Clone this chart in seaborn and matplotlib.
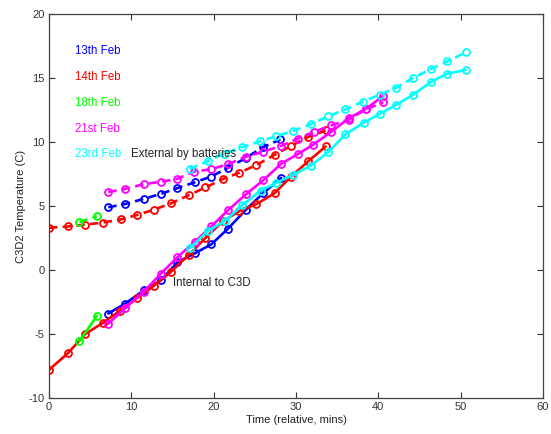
import matplotlib
matplotlib.use("Agg")
import matplotlib.pyplot as plt
import seaborn as sns
import pandas as pd

# ---- data ----
# 13th Feb
feb13_ext_t = [7.2, 9.2, 11.5, 13.6, 15.6, 17.7, 19.7, 21.8, 23.9, 26.0, 28.1]
feb13_ext_v = [4.9, 5.15, 5.55, 5.95, 6.4, 6.85, 7.3, 8.0, 8.75, 9.6, 10.2]
feb13_int_t = [7.2, 9.2, 11.5, 13.6, 15.6, 17.7, 19.7, 21.7, 23.9, 26.0, 28.2]
feb13_int_v = [-3.4, -2.65, -1.6, -0.8, 0.6, 1.3, 2.0, 3.2, 4.7, 6.0, 7.2]

# 14th Feb
feb14_ext_t = [0.0, 2.3, 4.4, 6.5, 8.7, 10.7, 12.7, 14.8, 17.0, 19.0, 21.1, 23.1, 25.2, 27.4, 29.4, 31.5, 33.6]
feb14_ext_v = [3.3, 3.4, 3.55, 3.7, 3.95, 4.3, 4.7, 5.2, 5.85, 6.45, 7.1, 7.6, 8.2, 9.0, 9.7, 10.4, 10.9]
feb14_int_t = [0.0, 2.3, 4.4, 6.5, 8.6, 10.7, 12.7, 14.8, 17.0, 19.0, 21.1, 23.1, 25.2, 27.4, 29.4, 31.5, 33.6]
feb14_int_v = [-7.8, -6.5, -5.0, -4.15, -3.2, -2.2, -1.25, -0.15, 1.2, 2.5, 3.8, 4.6, 5.15, 6.0, 7.3, 8.5, 9.65]

# 18th Feb
feb18_ext_t = [3.7, 5.8]
feb18_ext_v = [3.75, 4.2]
feb18_int_t = [3.7, 5.8]
feb18_int_v = [-5.55, -3.6]

# 21st Feb
feb21_ext_t = [7.2, 9.2, 11.5, 13.6, 15.5, 17.6, 19.7, 21.8, 23.9, 26.0, 28.2, 30.2, 32.2, 34.3, 36.4, 38.5, 40.6]
feb21_ext_v = [6.1, 6.33, 6.7, 6.9, 7.1, 7.68, 7.87, 8.28, 8.85, 9.24, 9.7, 10.25, 10.8, 11.3, 11.75, 12.55, 13.1]
feb21_int_t = [7.2, 9.2, 11.5, 13.6, 15.6, 17.7, 19.7, 21.8, 23.9, 26.0, 28.2, 30.2, 32.1, 34.3, 36.4, 38.5, 40.6]
feb21_int_v = [-4.2, -3.0, -1.7, -0.28, 1.0, 2.2, 3.4, 4.7, 5.9, 7.0, 8.3, 9.05, 9.8, 10.8, 11.85, 12.6, 13.6]

# 23rd Feb
feb23_ext_t = [17.1, 19.3, 21.3, 23.4, 25.6, 27.6, 29.6, 31.8, 33.9, 36.0, 38.1, 40.2, 42.2, 44.2, 46.4, 48.4, 50.6]
feb23_ext_v = [7.9, 8.5, 9.1, 9.6, 10.05, 10.45, 10.85, 11.4, 12.0, 12.55, 13.15, 13.7, 14.25, 15.0, 15.7, 16.3, 17.0]
feb23_int_t = [17.1, 19.3, 21.4, 23.5, 25.7, 27.6, 29.6, 31.8, 33.9, 36.0, 38.2, 40.2, 42.2, 44.2, 46.4, 48.4, 50.6]
feb23_int_v = [1.7, 3.05, 3.85, 5.08, 6.2, 6.8, 7.42, 8.15, 9.2, 10.6, 11.5, 12.2, 12.92, 13.68, 14.7, 15.35, 15.62]

day_labels = ["13th Feb", "14th Feb", "18th Feb", "21st Feb", "23rd Feb"]
day_colors = ["#0000ff", "#ff0000", "#00ff00", "#ff00ff", "#00ffff"]

x_ticks = [0, 10, 20, 30, 40, 50, 60]
y_ticks = [-10, -5, 0, 5, 10, 15, 20]

series = [
    (feb13_ext_t, feb13_ext_v, feb13_int_t, feb13_int_v),
    (feb14_ext_t, feb14_ext_v, feb14_int_t, feb14_int_v),
    (feb18_ext_t, feb18_ext_v, feb18_int_t, feb18_int_v),
    (feb21_ext_t, feb21_ext_v, feb21_int_t, feb21_int_v),
    (feb23_ext_t, feb23_ext_v, feb23_int_t, feb23_int_v),
]

sns.set_theme(style="white")
plt.rcParams['font.family'] = ['Liberation Sans', 'DejaVu Sans']
plt.rcParams['axes.unicode_minus'] = False

fig = plt.figure(figsize=(5.51, 4.34), dpi=100)
ax = fig.add_axes([49/551, 1 - 398/434, (543 - 49)/551, (398 - 14)/434])

for (et, ev, it, iv), col in zip(series, day_colors):
    df_e = pd.DataFrame({"t": et, "v": ev})
    df_i = pd.DataFrame({"t": it, "v": iv})
    sns.lineplot(data=df_e, x="t", y="v", ax=ax, color=col, lw=1.9,
                 sort=False, estimator=None, marker="o", markersize=5,
                 markerfacecolor="none", markeredgecolor=col, markeredgewidth=1.3,
                 dashes=False, legend=False)
    ax.lines[-1].set_dashes((3.2, 2.0))
    sns.lineplot(data=df_i, x="t", y="v", ax=ax, color=col, lw=1.9,
                 sort=False, estimator=None, marker="o", markersize=5,
                 markerfacecolor="none", markeredgecolor=col, markeredgewidth=1.3,
                 legend=False)

label_y = [17.1, 15.1, 13.05, 11.0, 9.06]
for lab, col, yy in zip(day_labels, day_colors, label_y):
    ax.text(3.2, yy, lab, color=col, fontsize=8.3, va="center", ha="left")
ax.text(10.0, 9.06, "External by batteries", color="#222222", fontsize=8.3, va="center", ha="left")
ax.text(15.1, -1.0, "Internal to C3D", color="#222222", fontsize=8.3, va="center", ha="left")

ax.set_xlim(0, 60)
ax.set_ylim(-10, 20)
ax.set_xticks(x_ticks)
ax.set_yticks(y_ticks)
ax.set_xlabel("Time (relative, mins)", fontsize=8, color="#222222", labelpad=2)
ax.set_ylabel("C3D2 Temperature (C)", fontsize=8, color="#222222", labelpad=2)
ax.tick_params(direction="in", length=4, width=0.8, labelsize=8, colors="#333333",
               top=True, right=True, bottom=True, left=True, pad=3)
for s in ax.spines.values():
    s.set_visible(True)
    s.set_color("#444444")
    s.set_linewidth(0.9)
ax.grid(False)

fig.savefig("out.png", dpi=100)
